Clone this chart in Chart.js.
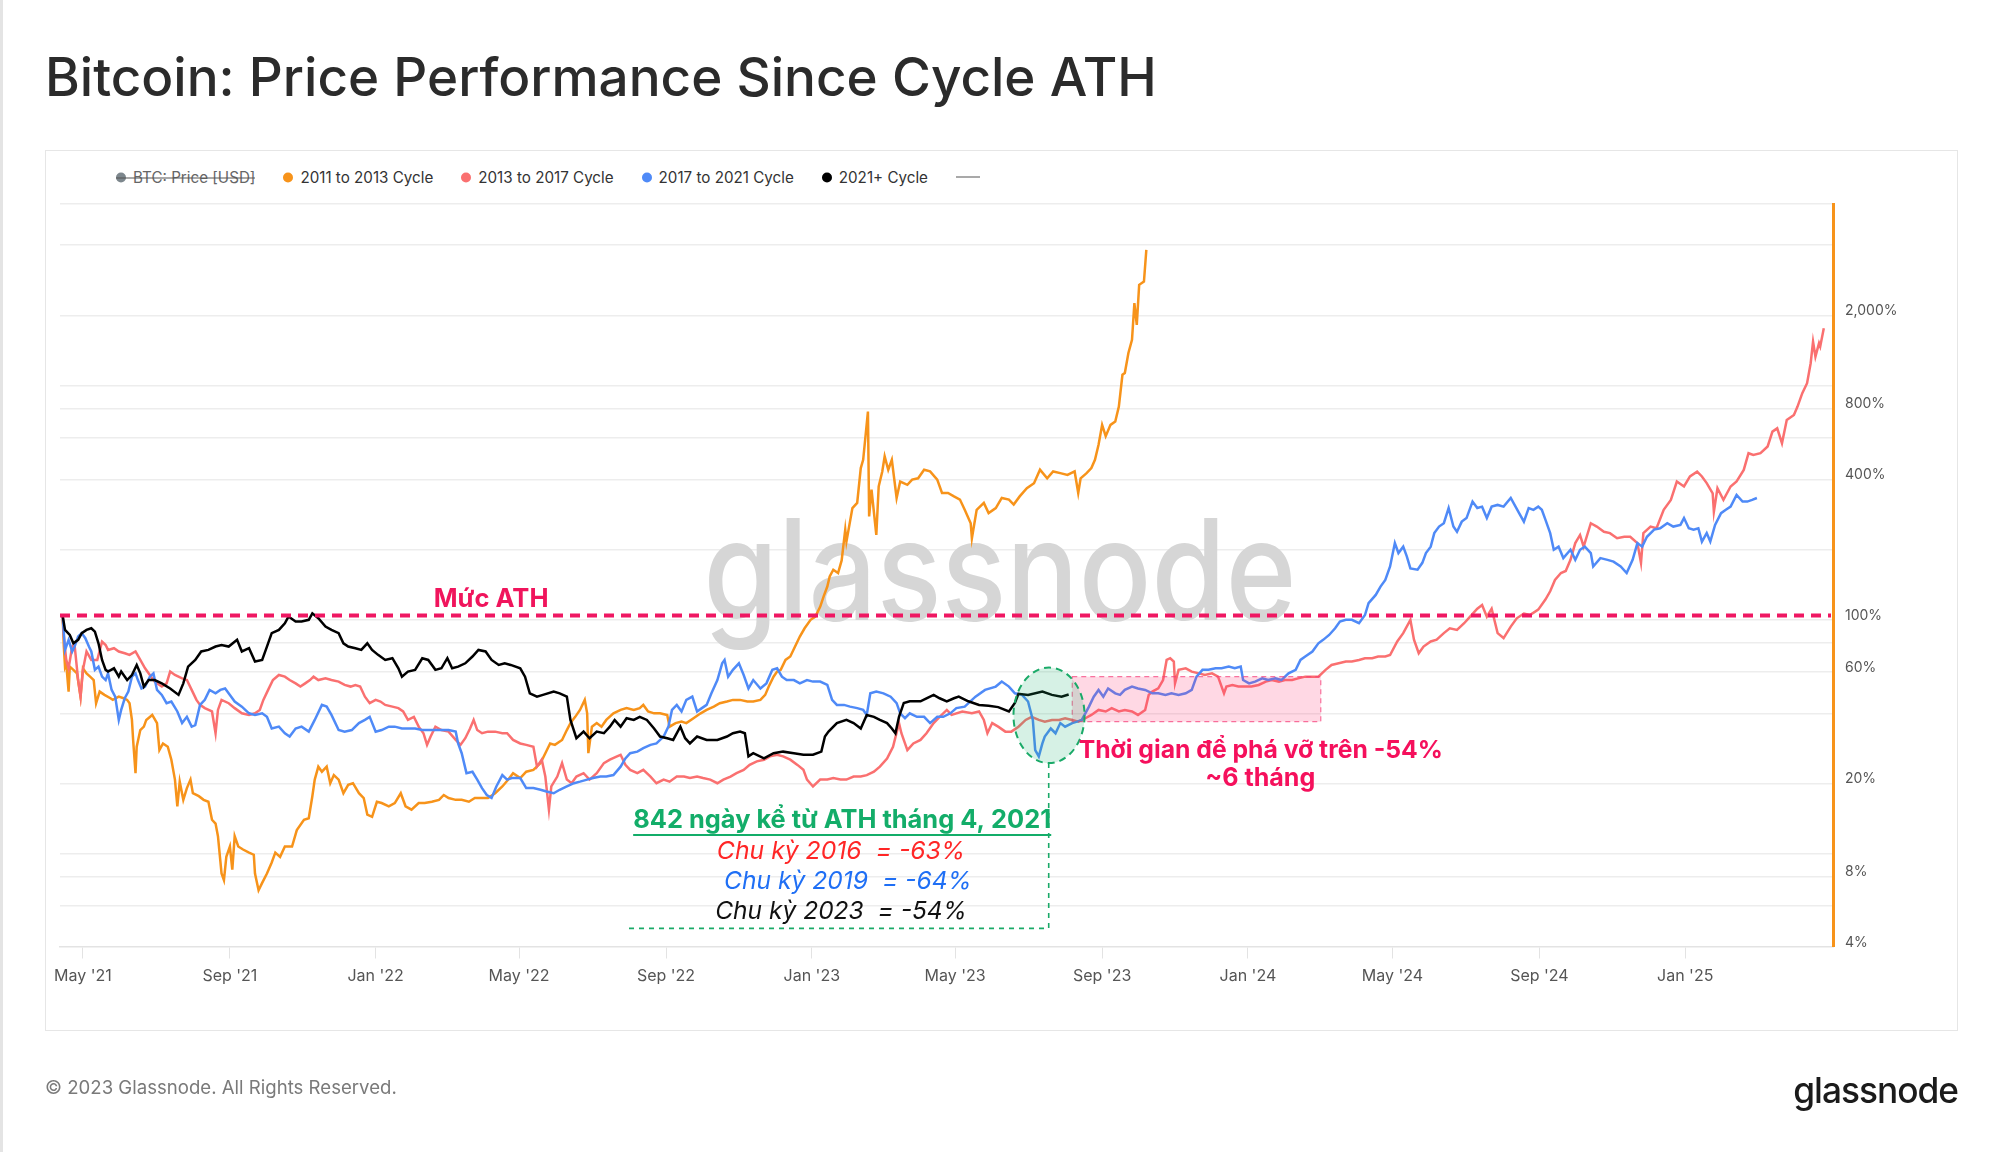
<!DOCTYPE html>
<html lang="vi">
<head>
  <meta charset="UTF-8" />
  <title>Bitcoin: Price Performance Since Cycle ATH</title>
  <style>
    body {
      margin: 0;
      width: 2000px;
      height: 1152px;
      position: relative;
      overflow: hidden;
      background: #fff;
      font-family: Inter, "Noto Sans", sans-serif;
    }
    #edge { position: absolute; left: 0; top: 0; width: 3px; height: 1152px; background: #e4e4e4; }
    #title {
      position: absolute; left: 45px; top: 77px; transform: translateY(-50%);
      font-size: 56px; font-weight: 500; color: #2b2b2b; white-space: nowrap;
    }
    #frame {
      position: absolute; left: 45px; top: 150px; width: 1911px; height: 879px;
      border: 1.5px solid #e6e6e6;
    }
    #legend {
      position: absolute; left: 116px; top: 177px; transform: translateY(-50%);
      display: flex; align-items: center; gap: 28px;
      font-size: 15.2px; color: #333; white-space: nowrap;
    }
    #legend .item { display: flex; align-items: center; gap: 7px; position: relative; }
    #legend .item i { display: inline-block; width: 10px; height: 10px; border-radius: 50%; }
    #legend .off { color: #666; }
    #legend .off::after {
      content: ""; position: absolute; left: 0; right: 0; top: 50%; height: 1.3px; background: #555;
    }
    #legend .dash { display: inline-block; width: 24px; height: 1.5px; background: #555; }
    #copy {
      position: absolute; left: 45px; top: 1087px; transform: translateY(-50%);
      font-size: 19px; color: #7a7a7a; white-space: nowrap;
    }
    #logo {
      position: absolute; right: 42px; top: 1090px; transform: translateY(-50%);
      font-size: 40px; font-weight: 500; color: #1b1b1b; letter-spacing: -1px; white-space: nowrap;
    }
    canvas { position: absolute; left: 0; top: 0; }
  </style>
  <script src="https://cdn.jsdelivr.net/npm/chart.js"></script>
</head>
<body>
  <div id="edge"></div>
  <div id="title">Bitcoin: Price Performance Since Cycle ATH</div>
  <div id="frame"></div>
  <div id="legend"></div>
  <canvas id="chart" width="2000" height="1152"></canvas>
  <div id="copy">© 2023 Glassnode. All Rights Reserved.</div>
  <div id="logo">glassnode</div>

  <script>
    // days since each cycle's ATH -> price as % of that ATH
    const cycle2011 = [[0,100],[1,73.7],[2,60.5],[3,62.5],[5,47.3],[6,60.5],[9,58.6],[12,56.6],[15,45],[17,59.5],[20,56.6],[23,54.8],[26,53],[28,42.2],[31,47.3],[35,45.8],[40,44.3],[42,43.6],[47,45],[51,44.3],[54,43.6],[56,42.2],[58,35.8],[59,29.4],[61,21.2],[62,27.5],[65,32.4],[68,33.5],[70,35.8],[75,37.6],[79,34.7],[81,26.6],[84,28.4],[88,27.5],[91,24.2],[94,19.9],[96,15.3],[98,19.5],[101,16.3],[104,18.3],[107,19.9],[109,17.4],[114,16.9],[118,16.3],[122,16],[125,13.4],[128,12.9],[130,11.4],[133,7.9],[135,7.4],[137,9.3],[140,10.3],[142,8.2],[144,11.4],[147,10.3],[151,10],[156,9.7],[160,9.5],[161,7.9],[164,6.7],[167,7.2],[171,7.9],[175,8.8],[178,9.7],[182,9.3],[186,10.3],[192,10.3],[196,12.1],[202,13.4],[206,13.6],[209,16.9],[211,19.9],[214,22.6],[217,21.5],[221,22.6],[224,19.2],[227,20.8],[231,19.9],[235,17.4],[239,18.9],[243,19.2],[248,17.4],[252,16.6],[255,14.1],[259,13.8],[263,16],[267,15.8],[273,15.3],[278,15.8],[283,17.4],[287,15.3],[292,14.8],[298,15.8],[303,15.8],[309,16],[315,16.3],[319,17.1],[323,16.6],[329,16.3],[334,16.3],[340,16],[345,16.6],[351,16.6],[356,16.6],[362,17.4],[368,18.6],[373,19.9],[377,21.2],[383,20.2],[388,21.5],[394,21.9],[400,23.4],[404,25.8],[408,28.4],[412,28],[418,29.4],[422,32.4],[425,34.7],[429,36.9],[433,39.5],[437,43.6],[439,38.2],[440,25.8],[443,33.5],[447,34.7],[451,33.5],[455,35.8],[461,38.2],[467,39.5],[472,40.2],[478,39.5],[483,40.2],[486,41.5],[490,38.9],[495,38.2],[500,38.2],[506,37.6],[508,33.5],[513,34.7],[518,35.2],[522,34.7],[528,36.4],[534,38.2],[539,39.5],[545,40.8],[550,42.2],[556,42.9],[561,43.6],[567,43.6],[573,42.9],[578,42.9],[584,43.6],[588,45.8],[591,49.7],[595,54.8],[598,57.6],[601,58.6],[605,64.6],[609,66.8],[613,73.7],[617,81.3],[621,88.2],[626,95.9],[630,99],[634,109],[637,121],[640,133],[642,147],[645,157],[649,152],[652,172],[655,233],[656,207],[661,288],[665,303],[668,427],[670,463],[674,744],[675,265],[677,345],[681,221],[683,356],[686,413],[688,479],[691,420],[694,463],[698,318],[701,374],[707,362],[711,381],[716,386],[721,420],[726,413],[732,381],[736,334],[741,334],[746,323],[751,313],[755,283],[760,248],[761,214],[765,283],[771,303],[775,274],[781,288],[786,318],[792,313],[796,298],[801,323],[807,350],[813,368],[818,420],[824,386],[829,413],[835,406],[841,399],[847,413],[850,334],[852,386],[857,406],[861,427],[864,463],[867,537],[870,653],[873,584],[877,653],[881,675],[884,782],[887,1069],[889,1088],[892,1325],[895,1507],[897,2163],[899,1747],[901,2591],[905,2677],[907,3657]];

    const cycle2013 = [[0,100],[1,81.3],[3,64.6],[5,59.5],[8,73.7],[10,74.8],[13,53],[15,45],[17,58.6],[20,70.2],[24,64.6],[29,64.6],[33,77.4],[36,74.8],[38,71.3],[43,72.5],[47,70.2],[52,69],[56,67.9],[61,70.2],[65,64.6],[69,59.5],[73,55.7],[77,52.2],[83,49.7],[87,51.3],[90,57.6],[94,55.7],[100,53.9],[104,53],[108,48.1],[112,43.6],[115,41.5],[119,40.2],[125,38.9],[128,31.4],[130,39.5],[133,43.6],[139,42.2],[144,40.2],[150,38.2],[156,37.6],[161,38.2],[165,39.5],[168,43.6],[172,48.1],[176,53],[181,55.7],[186,54.8],[190,53],[195,51.3],[199,49.7],[203,51.3],[207,53],[210,54.8],[214,53],[220,53.9],[225,53],[231,52.2],[236,50.5],[241,49.7],[245,50.5],[249,49.7],[253,45],[257,42.2],[262,43.6],[266,42.9],[270,41.5],[276,40.8],[281,40.2],[285,38.9],[289,35.8],[294,36.9],[298,33.5],[302,31.4],[305,28],[308,30.4],[312,33.5],[317,32.4],[323,31.9],[329,29.4],[333,28],[337,29.9],[341,32.9],[344,35.8],[347,32.4],[351,31.4],[356,31.9],[362,31.9],[368,31.4],[372,31.4],[377,29.4],[383,28.4],[388,28],[394,27.5],[397,22.6],[401,24.2],[404,20.5],[407,14.8],[409,18.6],[414,20.5],[418,23.4],[422,19.9],[426,19.2],[430,20.5],[436,21.2],[441,19.9],[447,21.2],[453,23.4],[458,24.2],[464,25],[467,25.4],[471,23],[475,21.9],[481,21.2],[486,21.9],[492,20.5],[497,19.2],[503,19.9],[508,19.5],[514,20.5],[520,20.5],[525,20.2],[531,20.5],[536,20.2],[542,19.9],[548,19.2],[553,19.9],[559,20.5],[564,21.2],[570,21.9],[575,23],[581,23.8],[587,24.2],[592,25],[598,25.4],[603,25],[609,24.2],[615,23],[620,21.9],[623,19.9],[628,18.6],[634,19.9],[640,19.9],[645,20.2],[651,19.9],[656,19.9],[662,20.5],[668,20.5],[673,20.8],[679,21.5],[684,22.6],[690,24.5],[695,27.5],[700,34.7],[702,31.4],[707,26.6],[712,28.4],[718,29.4],[723,31.4],[729,34.7],[734,36.9],[740,39.5],[744,37.6],[753,38.9],[761,38.2],[767,38.9],[771,35.8],[774,31.4],[778,34.7],[783,33.5],[789,31.9],[794,31.9],[800,33.5],[806,35.8],[811,36.9],[817,35.8],[822,35.2],[828,35.8],[834,35.8],[839,36.4],[845,35.8],[850,35.2],[856,36.4],[861,37.6],[867,39.5],[873,38.9],[878,40.2],[884,38.9],[889,39.5],[895,38.9],[900,37.6],[906,39.5],[909,45.8],[912,47.3],[917,48.8],[921,53],[924,64.6],[927,65.7],[930,63.6],[931,51.3],[934,58.6],[940,59.5],[945,57.6],[951,56.6],[956,55.7],[962,56.6],[967,54.8],[972,46.5],[974,49.7],[979,50.5],[984,49.7],[990,49.7],[995,49.7],[1001,50.5],[1007,52.2],[1012,53],[1018,52.2],[1023,53],[1029,53],[1034,53.9],[1040,54.8],[1046,54.8],[1051,54.8],[1057,58.6],[1062,61.5],[1068,62.5],[1074,63.6],[1079,63.6],[1085,64.6],[1090,65.7],[1096,65.7],[1101,66.8],[1107,66.8],[1111,67.8],[1117,77.5],[1122,84.1],[1128,95.7],[1131,78.8],[1135,69],[1139,73.7],[1145,77.5],[1150,78.8],[1156,84.1],[1161,88.2],[1167,86.8],[1173,92.7],[1178,98.9],[1184,107],[1188,111],[1192,98.9],[1196,107],[1201,84.1],[1206,80.1],[1212,89.7],[1217,97.3],[1223,102],[1228,100.5],[1235,106],[1241,117],[1245,127],[1249,142],[1254,152],[1258,155],[1262,173],[1266,204],[1270,221],[1273,197],[1279,248],[1284,240],[1290,228],[1295,225],[1301,214],[1307,217],[1312,217],[1318,204],[1321,168],[1323,225],[1329,240],[1334,236],[1340,283],[1346,312],[1351,374],[1357,356],[1362,393],[1368,412],[1372,393],[1376,368],[1381,333],[1382,278],[1385,350],[1390,312],[1396,356],[1401,374],[1407,419],[1411,494],[1415,486],[1421,494],[1427,528],[1431,611],[1435,631],[1439,545],[1443,685],[1449,720],[1452,782],[1456,892],[1460,984],[1463,1198],[1465,1482],[1467,1278],[1470,1459],[1471,1412],[1474,1690]];

    const cycle2017 = [[0,100],[2,71.3],[5,78.7],[8,70.2],[10,73.7],[13,81.3],[16,84.1],[19,80],[22,73.7],[24,70.2],[27,58.6],[30,60.5],[33,54.8],[36,53],[38,56.6],[41,48.1],[44,45],[47,35.8],[49,39.5],[52,44.3],[55,47.3],[58,54.8],[61,56.6],[63,53],[66,48.8],[69,49.7],[73,54.8],[76,56.6],[79,48.1],[83,45.8],[87,42.2],[91,42.9],[96,38.9],[100,34.7],[104,36.9],[108,33.5],[111,34],[115,41.5],[119,43.6],[123,48.1],[128,46.5],[132,48.1],[136,48.8],[140,45.8],[144,42.9],[150,40.8],[156,38.2],[161,37.6],[167,38.2],[171,36.9],[175,32.9],[181,33.5],[186,31.4],[190,30.4],[195,32.9],[200,33.5],[206,31.9],[211,35.8],[217,41.5],[221,40.8],[225,37.6],[231,32.4],[236,31.9],[242,32.4],[248,34.7],[253,35.8],[257,36.9],[262,31.9],[267,32.4],[273,33.5],[278,33.5],[284,32.9],[289,32.9],[295,32.9],[301,32.4],[306,32.4],[312,32.4],[317,32.4],[323,32.4],[329,31.9],[331,28.4],[334,25.8],[338,21.2],[343,21.5],[347,19.9],[351,18.3],[355,17.1],[359,16.6],[363,18.6],[368,20.8],[372,19.9],[376,20.2],[383,20.2],[388,18.3],[394,18.3],[400,18],[405,17.7],[411,17.4],[416,18],[422,18.6],[428,19.2],[433,19.5],[439,19.9],[444,20.2],[450,20.5],[455,20.5],[461,20.8],[467,22.6],[471,24.5],[475,25.8],[481,26.2],[486,27.1],[492,28],[497,28.4],[503,30.4],[507,33.5],[510,39.5],[514,41.5],[518,38.9],[522,43.6],[527,45],[531,38.9],[535,40.2],[539,41.5],[543,46.5],[548,53],[552,62.5],[554,64.6],[557,54.8],[561,58.6],[566,62.5],[570,55.7],[574,48.8],[578,53],[584,48.8],[589,51.3],[594,58.6],[598,59.5],[602,54.8],[606,53],[612,53],[617,51.3],[623,53],[628,52.2],[634,52.2],[640,50.5],[644,43.6],[648,41.5],[654,41.5],[659,40.8],[665,40.2],[670,39.5],[673,37.6],[676,46.5],[681,47.3],[687,46.5],[693,45],[698,42.2],[701,38.2],[705,36.4],[709,38.2],[715,36.9],[721,36.9],[726,34.7],[732,36.9],[737,36.9],[743,38.2],[748,40.2],[755,40.8],[764,45],[772,48.1],[781,49.7],[786,52.2],[792,49.7],[797,46.5],[803,45.8],[808,42.9],[812,35.8],[814,26.6],[817,25],[820,28.4],[822,30.4],[827,32.9],[831,31.4],[835,34.7],[839,33.5],[845,34.7],[849,35.2],[853,35.8],[859,40.8],[863,45],[867,48.1],[871,45],[875,48.8],[881,46.5],[885,45.8],[889,48.1],[895,49.7],[900,48.8],[906,48.1],[912,46.5],[917,46.5],[923,45.8],[928,46.5],[934,45.8],[940,46.5],[945,48.1],[949,54.8],[954,58.6],[959,58.6],[965,59.5],[970,59.5],[976,60.5],[981,59.5],[986,60.5],[988,53],[993,51.3],[998,52.2],[1004,53.9],[1009,53],[1015,53.9],[1020,53],[1026,56.6],[1032,58.6],[1036,64.6],[1040,66.8],[1046,70.2],[1051,76.1],[1055,78.7],[1060,82.6],[1065,88.2],[1069,94.3],[1074,95.9],[1079,95.9],[1085,92.7],[1090,100.5],[1093,113],[1099,122.5],[1103,133],[1107,142],[1111,162],[1115,204],[1118,185],[1122,197],[1125,179],[1128,159],[1134,157],[1138,168],[1141,185],[1145,197],[1148,225],[1152,240],[1156,248],[1160,288],[1164,240],[1167,228],[1171,252],[1175,261],[1180,307],[1184,288],[1188,292],[1192,261],[1196,292],[1201,297],[1206,292],[1212,318],[1216,292],[1219,274],[1223,252],[1227,288],[1231,283],[1235,292],[1238,283],[1241,257],[1245,225],[1248,191],[1252,197],[1256,176],[1262,191],[1266,173],[1270,191],[1274,197],[1279,185],[1281,162],[1287,176],[1293,173],[1298,170],[1304,162],[1309,152],[1314,173],[1318,204],[1322,197],[1326,217],[1332,233],[1337,236],[1343,248],[1348,240],[1354,244],[1357,261],[1361,236],[1365,233],[1369,236],[1372,207],[1376,225],[1379,207],[1383,244],[1388,274],[1392,283],[1396,292],[1401,328],[1406,307],[1410,307],[1414,312],[1418,318]];

    const cycle2021 = [[0,100],[2,86.8],[6,82.6],[9,76.1],[13,78.7],[16,84.1],[20,86.8],[24,88.2],[27,85.3],[30,76.1],[33,64.6],[36,58.6],[38,57.6],[43,59.5],[47,54.8],[49,57.6],[54,53],[58,55.7],[62,61.5],[65,56.6],[68,49.7],[72,53],[77,53],[83,51.3],[90,48.8],[97,45.8],[101,51.3],[105,60.5],[111,64.6],[116,70.2],[122,71.3],[128,73.7],[133,74.8],[139,73.7],[146,78.7],[150,70.2],[156,72.5],[161,63.6],[167,64.6],[171,73.7],[175,84.1],[181,86.8],[186,92.7],[189,99],[195,94.3],[200,94.3],[206,95.9],[209,102.2],[214,97.4],[220,89.8],[225,86.8],[231,84.1],[235,76.1],[239,73.7],[245,72.5],[250,71.3],[255,76.1],[259,71.3],[264,67.9],[270,64.6],[276,65.7],[281,59.5],[284,54.8],[289,57.6],[295,58.6],[301,65.7],[306,64.6],[312,58.6],[317,59.5],[322,65.7],[326,59.5],[331,60.5],[337,62.5],[343,66.8],[348,71.3],[354,70.2],[359,64.6],[365,61.5],[370,62.5],[375,61.5],[383,59.5],[387,54.8],[391,46.5],[397,45],[402,45.8],[411,47.3],[416,46.5],[422,45],[425,35.8],[430,29.9],[436,31.9],[441,29.9],[447,31.9],[453,31.4],[458,33.5],[462,35.8],[467,33.5],[472,36.4],[478,35.8],[483,36.9],[489,35.8],[495,32.9],[500,30.4],[506,29.9],[511,29.4],[517,33.5],[521,29.9],[525,28.4],[531,30.4],[539,29.4],[548,29.4],[556,30.4],[561,31.4],[567,31.9],[571,31.4],[574,25],[578,25.8],[587,24.5],[595,25.8],[603,26.2],[612,25.8],[620,25.4],[628,25.4],[635,26.2],[638,30.4],[641,31.9],[648,34.7],[656,35.8],[662,34.7],[668,32.9],[673,37.6],[679,36.9],[684,35.8],[690,34.7],[694,32.9],[697,31.4],[700,36.9],[704,42.3],[709,43],[718,43],[723,44.3],[729,45.8],[734,44.3],[740,43],[746,44.3],[750,45],[758,43],[767,41.5],[775,41.2],[783,40.6],[792,38.9],[797,42.3],[800,46.3],[808,45.8],[820,47.3],[828,45.8],[836,45],[842,46]];

    const seriesNames = ['2011 to 2013 Cycle', '2013 to 2017 Cycle', '2017 to 2021 Cycle', '2021+ Cycle'];
    const seriesColors = ['#f7931a', '#fa7070', '#4f8af7', '#000000'];
    const seriesData = [cycle2011, cycle2013, cycle2017, cycle2021];

    const monthTicks = [17, 140, 262, 382, 505, 627, 747, 870, 992, 1113, 1236, 1358];
    const monthLabels = ["May '21", "Sep '21", "Jan '22", "May '22", "Sep '22", "Jan '23", "May '23", "Sep '23", "Jan '24", "May '24", "Sep '24", "Jan '25"];
    const pctTicks = [4, 8, 20, 60, 100, 400, 800, 2000];
    // light grid rows come from the hidden price axis of the original chart
    const gridLevels = [5.73, 7.65, 9.56, 19.1, 38.2, 57.4, 76.5, 95.6, 191, 382, 574, 765, 956, 1912, 3825, 5740];

    // annotation anchors, in days / percent
    const athLevel = 100;
    const breakBox = { from: 845, to: 1053, lo: 35.2, hi: 54.8 };
    const zone = { from: 795.8, to: 855.3, lo: 23.4, hi: 59.9 };
    const link = { day: 825.3, from: 474, val: 4.6 };
    const notes = [
      { text: 'Mức ATH', from: 310.6, to: 406.7, val: 117.2, font: 'bold', color: '#f0145c' },
      { text: '842 ngày kể từ ATH tháng 4, 2021', from: 477.5, to: 827.4, val: 13.37, font: 'bold', color: '#13ad69', underline: 11.54 },
      { text: 'Chu kỳ 2016  = -63%', from: 547.5, to: 755.4, val: 9.79, font: 'italic', color: '#ff2626' },
      { text: 'Chu kỳ 2019  = -64%', from: 553.6, to: 760.9, val: 7.28, font: 'italic', color: '#1f6ff5' },
      { text: 'Chu kỳ 2023  = -54%', from: 546.1, to: 756.8, val: 5.42, font: 'italic', color: '#111111' },
      { text: 'Thời gian để phá vỡ trên -54%', from: 850.3, to: 1155.3, val: 26.6, font: 'bold', color: '#f5105c' },
      { text: '~6 tháng', from: 956.3, to: 1048.4, val: 20.2, font: 'bold', color: '#f5105c' }
    ];

    // make an html line exactly as wide as in the picture
    function fitWidth(el, w) {
      const fs = parseFloat(getComputedStyle(el).fontSize);
      el.style.fontSize = (fs * w / el.getBoundingClientRect().width) + 'px';
    }

    const legend = document.getElementById('legend');
    legend.innerHTML = '<span class="item off"><i style="background:#7d878d"></i>BTC: Price [USD]</span>' +
      seriesNames.map((n, i) => `<span class="item"><i style="background:${seriesColors[i]}"></i>${n}</span>`).join('') +
      '<span class="item"><b class="dash"></b></span>';

    fitWidth(document.getElementById('title'), 1112);
    fitWidth(document.getElementById('copy'), 352);
    fitWidth(document.getElementById('logo'), 166);

    function fitFont(ctx, text, style, w) {
      ctx.font = `${style} 100px Inter, "Noto Sans", sans-serif`;
      const m = ctx.measureText(text).width;
      ctx.font = `${style} ${100 * w / m}px Inter, "Noto Sans", sans-serif`;
    }

    const marks = {
      id: 'marks',
      beforeDatasetsDraw(chart) {
        const { ctx, chartArea } = chart;
        ctx.save();
        fitFont(ctx, 'glassnode', '500', 593);
        ctx.fillStyle = '#d6d6d6';
        ctx.textAlign = 'center';
        ctx.textBaseline = 'alphabetic';
        // the logo lettering is a bit taller than Inter
        ctx.translate(chart.width / 2, chartArea.top + 416);
        ctx.scale(1, 1.16);
        ctx.fillText('glassnode', 0, 0);
        ctx.restore();
      },
      afterDatasetsDraw(chart) {
        const { ctx, chartArea } = chart;
        const X = v => chart.scales.x.getPixelForValue(v);
        const Y = v => chart.scales.y.getPixelForValue(v);
        ctx.save();

        // pink box
        const bx = X(breakBox.from), bw = X(breakBox.to) - bx;
        const by = Y(breakBox.hi), bh = Y(breakBox.lo) - by;
        ctx.fillStyle = 'rgba(255, 50, 110, 0.19)';
        ctx.fillRect(bx, by, bw, bh);
        ctx.setLineDash([5, 4]);
        ctx.lineWidth = 1.2;
        ctx.strokeStyle = 'rgba(245, 60, 120, 0.7)';
        ctx.strokeRect(bx, by, bw, bh);

        // green zone
        const ex0 = X(zone.from), ex1 = X(zone.to), ey0 = Y(zone.hi), ey1 = Y(zone.lo);
        ctx.beginPath();
        ctx.ellipse((ex0 + ex1) / 2, (ey0 + ey1) / 2, (ex1 - ex0) / 2, (ey1 - ey0) / 2, 0, 0, Math.PI * 2);
        ctx.fillStyle = 'rgba(30, 180, 110, 0.18)';
        ctx.fill();
        ctx.setLineDash([7, 5]);
        ctx.lineWidth = 2;
        ctx.strokeStyle = '#1aaa68';
        ctx.stroke();

        ctx.setLineDash([5, 5]);
        ctx.lineWidth = 1.6;
        ctx.beginPath();
        ctx.moveTo(X(link.day), ey1);
        ctx.lineTo(X(link.day), Y(link.val));
        ctx.lineTo(X(link.from), Y(link.val));
        ctx.stroke();

        // ATH level
        ctx.setLineDash([10, 7]);
        ctx.lineWidth = 4;
        ctx.strokeStyle = '#ef1762';
        ctx.beginPath();
        ctx.moveTo(chartArea.left, Y(athLevel));
        ctx.lineTo(chartArea.right - 2, Y(athLevel));
        ctx.stroke();
        ctx.setLineDash([]);

        ctx.textAlign = 'center';
        ctx.textBaseline = 'middle';
        notes.forEach(n => {
          const x0 = X(n.from), x1 = X(n.to);
          fitFont(ctx, n.text, n.font, x1 - x0);
          ctx.fillStyle = n.color;
          ctx.fillText(n.text, (x0 + x1) / 2, Y(n.val));
          if (n.underline) {
            ctx.strokeStyle = n.color;
            ctx.lineWidth = 2;
            ctx.beginPath();
            ctx.moveTo(x0, Y(n.underline));
            ctx.lineTo(x1, Y(n.underline));
            ctx.stroke();
          }
        });
        ctx.restore();
      }
    };

    new Chart(document.getElementById('chart'), {
      type: 'line',
      data: {
        datasets: seriesData.map((pts, i) => ({
          label: seriesNames[i],
          data: pts.map(([d, v]) => ({ x: d, y: v })),
          borderColor: seriesColors[i],
          backgroundColor: seriesColors[i],
          borderWidth: 2.5,
          pointRadius: 0,
          tension: 0,
          order: 3 - i
        }))
      },
      options: {
        responsive: false,
        animation: false,
        devicePixelRatio: 1,
        layout: { padding: { left: 60, top: 204, right: 67, bottom: 145.5 } },
        plugins: { legend: { display: false }, tooltip: { enabled: false } },
        scales: {
          x: {
            type: 'linear', min: -2.2, max: 1481.7,
            afterBuildTicks: s => { s.ticks = monthTicks.map(v => ({ value: v })); },
            afterFit: s => { s.height = 60; },
            ticks: {
              callback: v => monthLabels[monthTicks.indexOf(v)],
              color: '#555', font: { family: 'Inter', size: 16 }, padding: 8, maxRotation: 0, autoSkip: false
            },
            grid: { drawOnChartArea: false, tickLength: 12, color: '#e3e3e3' },
            border: { color: '#e3e3e3', width: 1.5 }
          },
          y: {
            type: 'logarithmic', position: 'right', min: 3.85, max: 5740,
            afterBuildTicks: s => { s.ticks = pctTicks.map(v => ({ value: v })); },
            afterFit: s => { s.width = 100; },
            ticks: {
              callback: v => v.toLocaleString('en-US') + '%',
              color: '#555', font: { family: 'Inter', size: 14 }, padding: 12, autoSkip: false
            },
            grid: { drawOnChartArea: false, drawTicks: false },
            border: { color: '#f7931a', width: 3 }
          },
          yg: {
            type: 'logarithmic', position: 'left', min: 3.85, max: 5740,
            afterBuildTicks: s => { s.ticks = gridLevels.map(v => ({ value: v })); },
            afterFit: s => { s.width = 0; },
            ticks: { display: false },
            grid: { color: '#ededed', lineWidth: 1.5, drawTicks: false },
            border: { display: false }
          }
        }
      },
      plugins: [marks]
    });
  </script>
</body>
</html>
